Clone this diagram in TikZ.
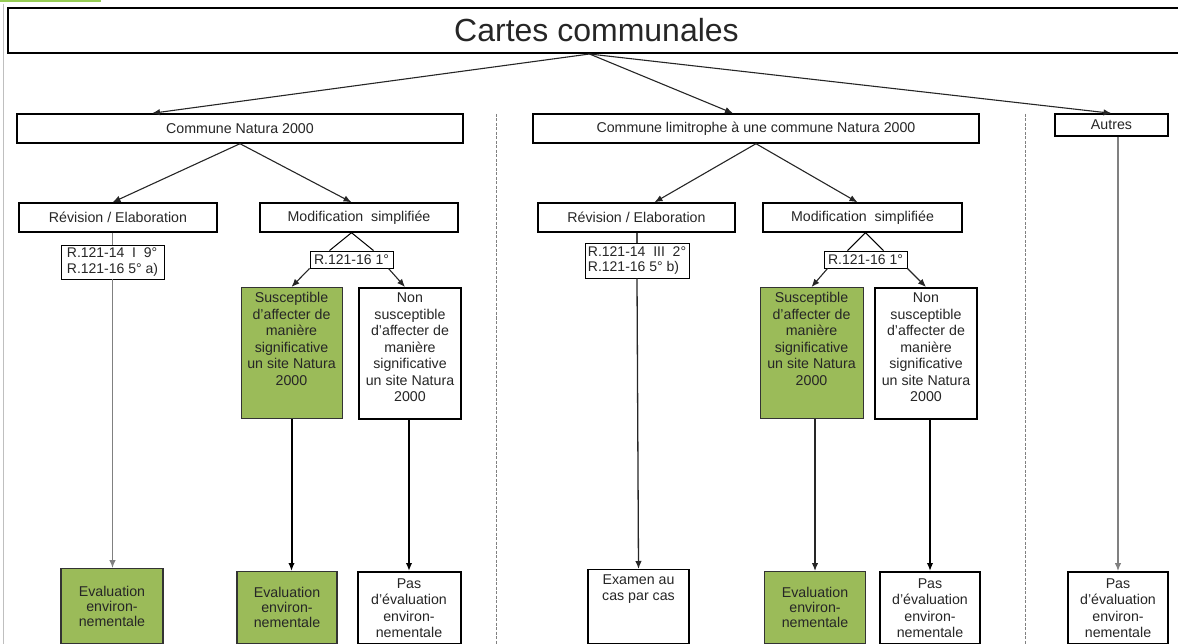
\documentclass[tikz,border=0pt]{standalone}
\usepackage{fontspec}
\setmainfont{Liberation Sans}
\usetikzlibrary{arrows.meta,calc}
\definecolor{vertbox}{RGB}{155,187,89}
\definecolor{vertonglet}{RGB}{150,205,85}
\newcommand{\hauttexte}[2]{\parbox[t][#1][t]{95pt}{\centering #2}}

\begin{document}
\begin{tikzpicture}[x=1pt, y=-1pt,
    txt/.style={font=\fontsize{14.2}{16.5}\selectfont, text=black!85, inner sep=0pt},
    cadre/.style={txt, draw, line width=1.4pt, fill=white, minimum height=29pt},
    refbox/.style={txt, draw, line width=0.9pt, fill=white, align=left, inner xsep=1.5pt, font=\fontsize{14}{15.5}\selectfont},
    vert/.style={txt, draw=black!80, line width=1pt, fill=vertbox, anchor=north, inner ysep=5pt, inner xsep=3pt},
    blanc/.style={txt, draw, line width=2pt, fill=white, anchor=north, inner ysep=5pt, inner xsep=3pt},
    fleche/.style={-{Latex[length=8pt,width=6.5pt]}, line width=1.1pt, draw=black!85},
    gris/.style={line width=0.9pt, draw=black!50},
    epais/.style={line width=2pt, draw=black},
    separateur/.style={draw=black!50, line width=1pt, dash pattern=on 3pt off 1.5pt}
]
    \useasboundingbox (0,0) rectangle (1178,644);

    % Onglet et bord de page
    \fill[vertonglet] (0,0) rectangle (101,2.5);
    \draw[black!25, line width=1.2pt] (3.5,4) -- (3.5,644);

    % Titre
    \node[txt, draw, line width=2pt, minimum width=1177pt, minimum height=45pt,
          font=\fontsize{32}{36}\selectfont, text=black!85] (titre) at (596.5,30.5) {Cartes communales};

    % Separations
    \draw[separateur] (496,114) -- (496,644);
    \draw[separateur] (1025,114) -- (1025,644);

    % Premier niveau
    \node[cadre, minimum width=446pt] (cn) at (240,128.5) {Commune Natura 2000};
    \node[cadre, minimum width=446pt] (cl) at (756,128.5) {Commune limitrophe à une commune Natura 2000};
    \node[cadre, minimum width=113pt, minimum height=22pt] (au) at (1111.5,125) {Autres};

    % Procedures
    \node[cadre, minimum width=198pt] (rev1) at (118,217.5) {Révision / Elaboration};
    \node[cadre, minimum width=198pt] (modif1) at (359,217.5) {Modification~ simplifiée};
    \node[cadre, minimum width=197pt] (rev2) at (636.5,217.5) {Révision / Elaboration};
    \node[cadre, minimum width=199pt] (modif2) at (862.5,217.5) {Modification~ simplifiée};

    % Articles
    \node[refbox, minimum width=103pt, minimum height=34pt] (ref1) at (112.5,262) {R.121-14\ \ I\ \ 9°\\R.121-16 5° a)};
    \node[refbox, minimum width=104pt, minimum height=35pt] (ref2) at (637,260.5) {R.121-14\ \ III\ \ 2°\\R.121-16 5° b)};
    \node[refbox, minimum width=83pt, minimum height=17pt] (rsub1) at (351.5,259.5) {R.121-16 1°};
    \node[refbox, minimum width=83pt, minimum height=17pt] (rsub2) at (865.5,259.5) {R.121-16 1°};

    % Cas significatifs
    \node[vert, minimum width=101pt] (sus1) at (291.5,287) {\hauttexte{121pt}{Susceptible\\d'affecter de\\manière\\significative\\un site Natura\\2000}};
    \node[blanc, minimum width=102pt] (non1) at (410,287) {\hauttexte{121pt}{Non\\susceptible\\d'affecter de\\manière\\significative\\un site Natura\\2000}};
    \node[vert, minimum width=103pt] (sus2) at (811.5,287) {\hauttexte{121pt}{Susceptible\\d'affecter de\\manière\\significative\\un site Natura\\2000}};
    \node[blanc, minimum width=102pt] (non2) at (926,287) {\hauttexte{121pt}{Non\\susceptible\\d'affecter de\\manière\\significative\\un site Natura\\2000}};

    % Resultats
    \node[vert, line width=1.2pt, minimum width=102pt, minimum height=75pt, align=center,
          font=\fontsize{14.2}{15}\selectfont] (eval1) at (112,568) {Evaluation\\environ-\\nementale};
    \node[vert, line width=1.2pt, minimum width=100pt, minimum height=72pt, align=center,
          font=\fontsize{14.2}{15}\selectfont] (eval2) at (287,571) {Evaluation\\environ-\\nementale};
    \node[blanc, minimum width=103pt, minimum height=72pt, align=center] (pas1) at (409,571) {Pas\\d'évaluation\\environ-\\nementale};
    \node[blanc, line width=1.4pt, minimum width=101pt] (exam) at (638.5,569) {\hauttexte{64pt}{Examen au\\cas par cas}};
    \node[vert, line width=1.2pt, minimum width=101pt, minimum height=72pt, align=center,
          font=\fontsize{14.2}{15}\selectfont] (eval3) at (815,571) {Evaluation\\environ-\\nementale};
    \node[blanc, minimum width=100pt, minimum height=72pt, align=center] (pas2) at (930,571) {Pas\\d'évaluation\\environ-\\nementale};
    \node[blanc, minimum width=100pt, minimum height=72pt, align=center] (pas3) at (1118,571) {Pas\\d'évaluation\\environ-\\nementale};

    % Connexions depuis le titre
    \draw[fleche] ($(titre.south)+(-7,0)$) -- ($(cn.north)+(-88,0)$);
    \draw[fleche] ($(titre.south)+(-7,0)$) -- ($(cl.north)+(-23,0)$);
    \draw[fleche] ($(titre.south)+(-7,0)$) -- (au.north);

    % Commune Natura 2000
    \draw[fleche] (cn.south) -- (rev1.north -| ref1);
    \draw[fleche] (cn.south) -- (modif1.north -| rsub1);
    \draw[gris] (rev1.south -| ref1) -- (ref1.north);
    \draw[gris, fleche, draw=black!50] (ref1.south) -- (ref1.south |- eval1.north);
    \draw[line width=1pt] ($(rsub1.north)+(-22,0)$) -- (modif1.south -| rsub1) -- ($(rsub1.north)+(22,0)$);
    \draw[fleche] (rsub1.south west) -- (sus1.north);
    \draw[fleche] ($(rsub1.south east)+(-5,0)$) -- ($(non1.north)+(-5,0)$);
    \draw[fleche, epais] (sus1.south) -- (sus1.south |- eval2.north);
    \draw[fleche, epais] (pas1.north |- non1.south) -- (pas1.north);

    % Commune limitrophe
    \draw[fleche] (cl.south) -- ($(rev2.north)+(18,0)$);
    \draw[fleche] (cl.south) -- ($(modif2.north)+(-5,0)$);
    \draw[line width=1.1pt, draw=black!70] (rev2.south -| ref2) -- (ref2.north);
    \draw[fleche, line width=1.3pt] (ref2.south) -- (exam.north);
    \draw[line width=1pt] ($(rsub2.north)+(-18,0)$) -- (modif2.south -| rsub2) -- ($(rsub2.north)+(18,0)$);
    \draw[fleche] ($(rsub2.south west)+(4,0)$) -- (sus2.north);
    \draw[fleche] (rsub2.south east) -- (non2.north);
    \draw[fleche, line width=1.3pt] (eval3.north |- sus2.south) -- (eval3.north);
    \draw[fleche, epais] (pas2.north |- non2.south) -- (pas2.north);

    % Autres
    \draw[gris, fleche, draw=black!50] (pas3.north |- au.south) -- (pas3.north);
\end{tikzpicture}
\end{document}
